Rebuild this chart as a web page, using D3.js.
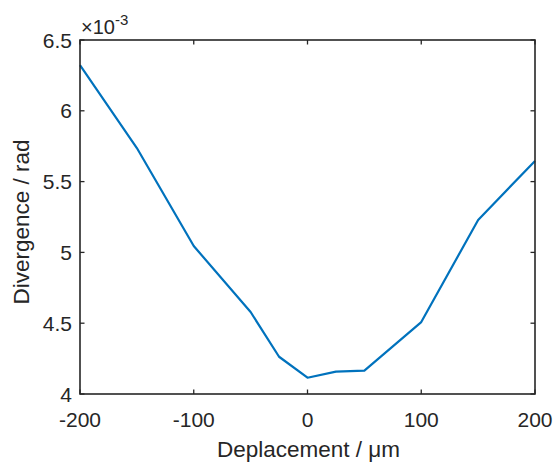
<!DOCTYPE html>
<html><head><meta charset="utf-8">
<script src="https://cdn.jsdelivr.net/npm/d3@7"></script>
<style>body{margin:0;background:#fff;} text{font-family:"Liberation Sans",Arial,sans-serif;fill:#262626;}</style>
</head><body>
<svg id="c" width="555" height="464"></svg>
<script>
const displacement = [-200, -150, -100, -50, -25, 0, 25, 50, 100, 150, 200];
const divergence = [6.323, 5.737, 5.045, 4.579, 4.263, 4.115, 4.158, 4.165, 4.508, 5.229, 5.646]; // x1e-3 rad
const xTicks = [-200, -100, 0, 100, 200];
const yTicks = [4, 4.5, 5, 5.5, 6, 6.5];

const svg = d3.select("#c");
const L = 80, R = 535, T = 40, B = 394;
const x = d3.scaleLinear().domain([-200, 200]).range([L, R]);
const y = d3.scaleLinear().domain([4, 6.5]).range([B, T]);
const ink = "#262626";

const g = svg.append("g");
xTicks.forEach(v => {
  g.append("line").attr("x1", x(v)).attr("x2", x(v)).attr("y1", B).attr("y2", B - 4.5).attr("stroke", ink).attr("stroke-width", 1.3);
  g.append("line").attr("x1", x(v)).attr("x2", x(v)).attr("y1", T).attr("y2", T + 4.5).attr("stroke", ink).attr("stroke-width", 1.3);
  g.append("text").attr("x", x(v)).attr("y", 427).attr("text-anchor", "middle").attr("font-size", 21).text(v);
});
yTicks.forEach(v => {
  g.append("line").attr("x1", L).attr("x2", L + 4.5).attr("y1", y(v)).attr("y2", y(v)).attr("stroke", ink).attr("stroke-width", 1.3);
  g.append("line").attr("x1", R).attr("x2", R - 4.5).attr("y1", y(v)).attr("y2", y(v)).attr("stroke", ink).attr("stroke-width", 1.3);
  g.append("text").attr("x", L - 8).attr("y", y(v)).attr("dy", "0.36em").attr("text-anchor", "end").attr("font-size", 21).text(v);
});

const line = d3.line().x((d, i) => x(displacement[i])).y(d => y(d));
svg.append("path").datum(divergence).attr("d", line).attr("fill", "none").attr("stroke", "#0072BD").attr("stroke-width", 2.2).attr("stroke-linejoin", "round");

svg.append("rect").attr("x", L).attr("y", T).attr("width", R - L).attr("height", B - T).attr("fill", "none").attr("stroke", ink).attr("stroke-width", 1.6);

const ex = svg.append("text").attr("x", L + 1).attr("y", 34).attr("font-size", 20);
ex.append("tspan").text("×10");
ex.append("tspan").attr("font-size", 15).attr("dy", -9).text("-3");

svg.append("text").attr("x", (L + R) / 2 + 1).attr("y", 457).attr("text-anchor", "middle").attr("font-size", 22.5).text("Deplacement / μm");
svg.append("text").attr("transform", `translate(29,222) rotate(-90)`).attr("text-anchor", "middle").attr("font-size", 22.5).text("Divergence / rad");
</script>
</body></html>
